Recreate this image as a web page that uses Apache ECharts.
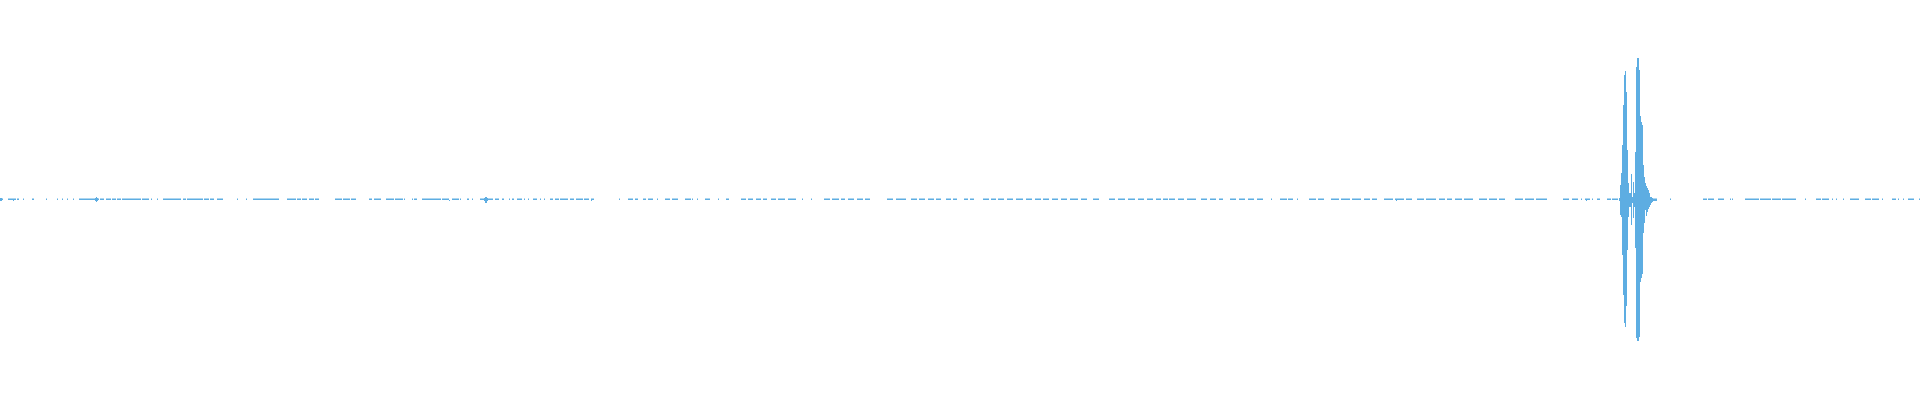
<!DOCTYPE html>
<html>
<head>
<meta charset="utf-8">
<script src="https://cdn.jsdelivr.net/npm/echarts@6/dist/echarts.min.js"></script>
<style>
  html, body { margin: 0; padding: 0; background: #ffffff; }
  #chart { width: 1920px; height: 400px; }
</style>
</head>
<body>
<div id="chart"></div>
<script>
// Number of samples along the trace (one per pixel column)
const sampleCount = 1920;

// Low-level background noise: [firstSample, lastSample]
const noiseSegments = [
  [0,2],[8,15],[17,18],[23,23],[32,33],[46,46],[57,57],[62,62],[67,67],[73,73],
  [79,83],[84,93],[94,98],[100,103],[106,110],[112,115],[117,120],[122,124],[125,140],
  [142,148],[151,151],[157,157],[163,180],[183,185],[187,202],[204,208],[210,213],
  [217,222],[237,237],[246,246],[253,257],[258,267],[268,272],[273,278],[287,295],[297,300],
  [302,306],[309,313],[315,318],[335,341],[343,349],[351,355],[369,371],[374,380],[386,393],[395,402],
  [404,404],[412,412],[414,416],[422,431],[432,440],[442,448],[452,457],[458,458],[460,460],
  [467,468],[472,472],[480,484],[485,487],[488,492],[495,498],[502,503],[509,509],[512,513],
  [517,521],[524,524],[528,528],[533,536],[540,540],[544,544],[550,552],[555,558],[560,567],
  [570,573],[576,582],[584,588],[591,593],[619,619],[628,632],[635,637],[643,645],[648,652],
  [657,657],[665,669],[672,677],[685,690],[692,692],[697,697],
  [705,709],[718,718],[726,728],[741,745],[748,752],[756,760],[763,766],[771,775],[778,784],[788,795],
  [802,802],[811,811],[824,829],[832,838],[841,844],[848,853],[857,862],[865,869],[887,892],[896,905],[911,916],
  [919,924],[928,933],[936,940],[946,950],[953,956],[964,967],[970,973],[983,988],[991,995],[998,1003],[1007,1012],
  [1016,1022],[1026,1031],[1035,1040],[1043,1048],[1052,1057],[1061,1066],[1070,1077],[1081,1086],[1093,1098],
  [1109,1114],[1118,1124],[1128,1134],[1138,1143],[1147,1152],[1156,1160],[1163,1167],[1169,1174],[1178,1183],
  [1187,1195],[1201,1206],[1210,1215],[1219,1222],[1230,1235],[1239,1244],[1248,1253],[1257,1262],[1271,1271],
  [1280,1286],[1288,1292],[1297,1297],[1309,1315],[1318,1323],[1331,1338],[1341,1349],[1352,1360],
  [1364,1369],[1372,1376],[1384,1392],[1395,1403],[1406,1411],[1417,1423],[1426,1435],[1439,1444],
  [1447,1451],[1455,1461],[1464,1472],[1479,1486],[1489,1496],[1499,1504],[1515,1522],[1525,1533],
  [1536,1546],
  [1563,1568],[1572,1577],[1581,1581],[1585,1589],[1592,1592],[1597,1599],[1607,1610],[1612,1617],
  [1670,1670],[1703,1706],[1708,1713],[1718,1723],[1730,1730],[1732,1732],[1745,1750],[1751,1758],
  [1760,1770],[1772,1780],[1782,1795],[1805,1805],[1816,1820],[1822,1828],[1832,1832],[1836,1836],
  [1843,1843],[1850,1857],[1858,1858],[1865,1870],[1872,1878],[1882,1882],[1892,1895],[1898,1898],
  [1903,1903],[1908,1913],[1919,1919]
];
const noiseLevel = 1.5;

// Isolated small spikes: [sample, up, down]
const smallSpikes = [
  [0,2,-1],[1,2,-1],[13,1.5,-1],[95,2,-1],[96,3,-2],[97,2,-1],[449,0,-1],
  [484,2,-1],[485,3,-3],[486,3,-3],[487,2,-1],[591,1.5,-1],[1396,1.5,-1],[1586,1.5,-1]
];

// Main event (burst): per-sample upper / lower envelope starting at burstStart
const burstStart = 1619;
const burstUpper = [2,15,27,55,95,125,129,108,50,17,7,7,26,3,18,7,48,133,142,142,130,84,78,75,35,23,17,14,12,10,7,3,3,2,1.5,1.5,1.5,1.5];
const burstLower = [-1,-15,-17,-55,-95,-123,-127,-106,-50,-17,-7,-7,-25,-3,-18,-7,-48,-138,-141,-141,-137,-82,-78,-74,-33,-23,-10,-16,-12,-9,-7,-5,-3,-2,-1,-1,-1,-1];

// Build the series arrays from the read values
const samples = [];
const upper = [];
const lower = [];
for (let i = 0; i < sampleCount; i++) { samples.push(i); upper.push(0); lower.push(0); }
noiseSegments.forEach(([a, b]) => { for (let i = a; i <= b; i++) upper[i] = noiseLevel; });
smallSpikes.forEach(([i, u, d]) => { if (u) upper[i] = u; lower[i] = d; });
burstUpper.forEach((v, k) => { upper[burstStart + k] = v; });
burstLower.forEach((v, k) => { lower[burstStart + k] = v; });

const chart = echarts.init(document.getElementById('chart'), null, { renderer: 'canvas' });
chart.setOption({
  animation: false,
  backgroundColor: '#ffffff',
  grid: { left: 0, right: 0, top: 0, bottom: 0 },
  xAxis: {
    type: 'category', data: samples, show: false, boundaryGap: true
  },
  yAxis: {
    type: 'value', min: -200, max: 200, show: false
  },
  series: [
    {
      type: 'bar', data: upper, barCategoryGap: '0%', barGap: '-100%',
      itemStyle: { color: '#5dade2' }, silent: true
    },
    {
      type: 'bar', data: lower, barCategoryGap: '0%', barGap: '-100%',
      itemStyle: { color: '#5dade2' }, silent: true
    }
  ]
});
</script>
</body>
</html>
